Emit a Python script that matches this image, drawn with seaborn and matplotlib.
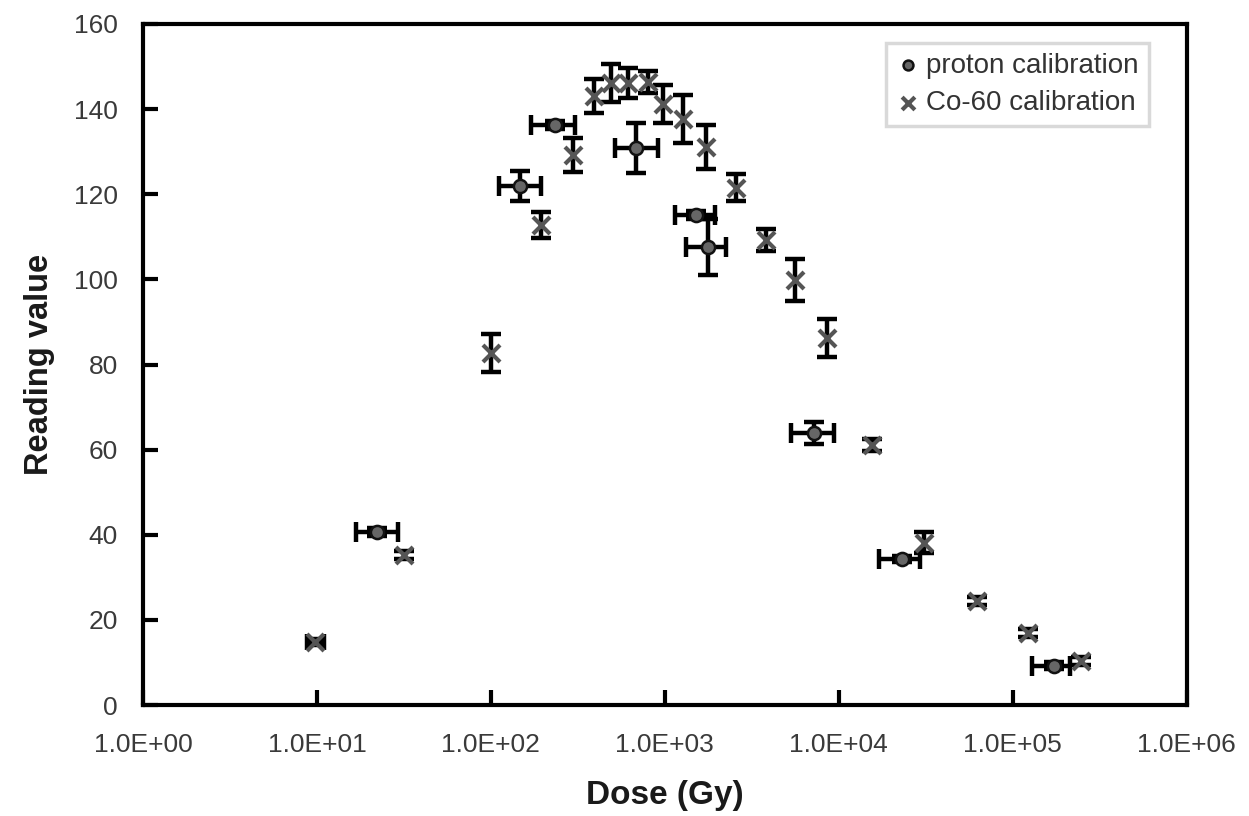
import numpy as np
import pandas as pd
import matplotlib
matplotlib.use("Agg")
import matplotlib.pyplot as plt
import seaborn as sns
from matplotlib.ticker import FixedLocator, NullLocator

# ---- data ----
proton_dose = [22.2, 148, 235, 684, 1510, 1767, 7250, 23100, 171800]
proton_read = [40.6, 121.9, 136.3, 130.9, 115.1, 107.6, 63.9, 34.3, 9.2]
proton_dose_lo = [16.8, 111, 171, 518, 1143, 1322, 5350, 17100, 130000]
proton_dose_hi = [29.3, 195, 306, 914, 1940, 2242, 9440, 29300, 215000]
proton_read_err = [1.0, 3.6, 1.0, 5.8, 1.0, 6.5, 2.5, 0.8, 0.8]

co_dose = [9.8, 31.7, 100, 195, 298, 393, 492, 615, 801, 977, 1271, 1722,
           2558, 3800, 5640, 8600, 15600, 30900, 62200, 122000, 248000]
co_read = [14.8, 35.2, 82.7, 112.8, 129.2, 143.1, 146.1, 146.1, 146.4, 141.2,
           137.7, 131.1, 121.5, 109.3, 99.9, 86.2, 61.1, 38.1, 24.4, 16.9, 10.3]
co_read_err = [0.8, 1.0, 4.5, 3.0, 4.0, 4.0, 4.5, 3.5, 2.5, 4.5, 5.6, 5.2,
               3.2, 2.6, 4.9, 4.5, 1.5, 2.5, 1.0, 1.0, 1.0]
co_first_dose_lo = 8.8
co_first_dose_hi = 11.0

x_ticks = [1e0, 1e1, 1e2, 1e3, 1e4, 1e5, 1e6]
x_tick_labels = ["1.0E+00", "1.0E+01", "1.0E+02", "1.0E+03", "1.0E+04", "1.0E+05", "1.0E+06"]
y_ticks = [0, 20, 40, 60, 80, 100, 120, 140, 160]

sns.set_style("ticks")
plt.rcParams['font.family'] = ['Liberation Sans', 'DejaVu Sans']

fig = plt.figure(figsize=(12.49, 8.16), dpi=100)
ax = fig.add_axes([0.1145, 0.136, 0.8355, 0.8346])

df_p = pd.DataFrame({"dose": proton_dose, "reading": proton_read})
df_c = pd.DataFrame({"dose": co_dose, "reading": co_read})

# error bars
pd_arr = np.array(proton_dose, dtype=float)
xerr_p = np.vstack([pd_arr - np.array(proton_dose_lo), np.array(proton_dose_hi) - pd_arr])
ax.errorbar(proton_dose, proton_read, xerr=xerr_p, yerr=proton_read_err, fmt="none",
            ecolor="black", elinewidth=3.2, capsize=7, capthick=3.2, zorder=2)

ax.errorbar(co_dose, co_read, yerr=co_read_err, fmt="none",
            ecolor="black", elinewidth=3.2, capsize=7, capthick=3.2, zorder=2)
xerr_c0 = np.array([[co_dose[0] - co_first_dose_lo], [co_first_dose_hi - co_dose[0]]])
ax.errorbar([co_dose[0]], [co_read[0]], xerr=xerr_c0, fmt="none",
            ecolor="black", elinewidth=3.2, capsize=6, capthick=3.2, zorder=2)

sns.scatterplot(data=df_p, x="dose", y="reading", ax=ax, marker="o", s=90,
                color="#666666", edgecolor="#111111", linewidth=1.8, zorder=3,
                label="proton calibration")
sns.scatterplot(data=df_c, x="dose", y="reading", ax=ax, marker="x", s=150,
                color="#555555", linewidth=3, zorder=3,
                label="Co-60 calibration")

ax.set_xscale("log")
ax.set_xlim(1e0, 1e6)
ax.set_ylim(0, 160)
ax.xaxis.set_major_locator(FixedLocator(x_ticks))
ax.xaxis.set_minor_locator(NullLocator())
ax.set_xticklabels(x_tick_labels)
ax.set_yticks(y_ticks)

for side in ["left", "bottom", "right", "top"]:
    ax.spines[side].set_visible(True)
    ax.spines[side].set_linewidth(3)
    ax.spines[side].set_color("black")

ax.tick_params(axis="both", direction="in", length=11, width=3, color="black",
               labelsize=19, labelcolor="#3a3a3a", top=False, right=False)
ax.tick_params(axis="x", pad=20)
ax.tick_params(axis="y", pad=18)

ax.set_xlabel("Dose (Gy)", fontsize=24, fontweight="bold", color="#1a1a1a", labelpad=17)
ax.set_ylabel("Reading value", fontsize=23.5, fontweight="bold", color="#1a1a1a", labelpad=14)

leg = ax.legend(loc="upper right", bbox_to_anchor=(0.9636, 0.972), frameon=True,
                fancybox=False, fontsize=20, handletextpad=0.2, handlelength=0.9,
                borderpad=0.35, labelspacing=0.4, markerscale=0.75, borderaxespad=0)
leg.get_frame().set_edgecolor("#d0d0d0")
leg.get_frame().set_linewidth(2.5)
for t in leg.get_texts():
    t.set_color("#333333")

fig.savefig("out.png", dpi=100, facecolor="white")
